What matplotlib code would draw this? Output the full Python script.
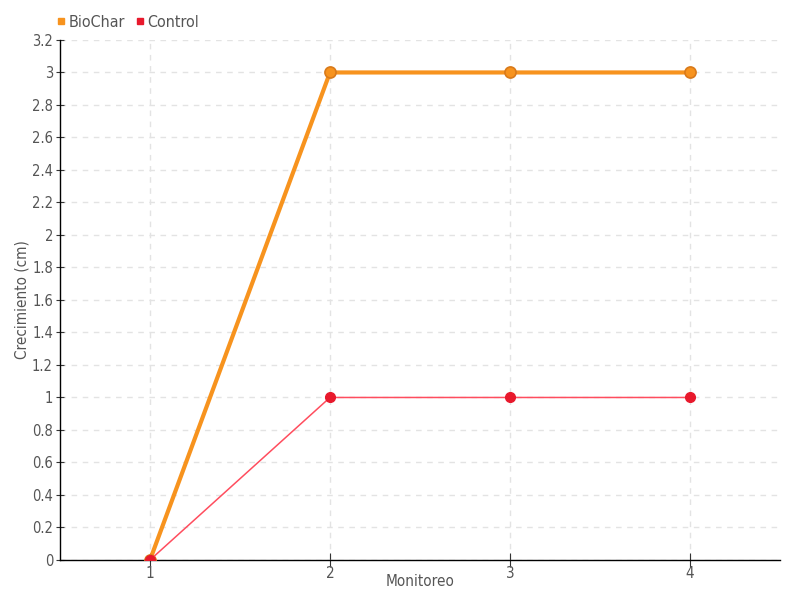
import matplotlib
matplotlib.use("Agg")
import matplotlib.pyplot as plt
from matplotlib.lines import Line2D

plt.rcParams['font.family'] = ['DejaVu Sans']
plt.rcParams['font.stretch'] = 'condensed'

monitoreo = [1, 2, 3, 4]
biochar = [0, 3, 3, 3]
control = [0, 1, 1, 1]
yticks = [0, 0.2, 0.4, 0.6, 0.8, 1, 1.2, 1.4, 1.6, 1.8, 2, 2.2, 2.4, 2.6, 2.8, 3, 3.2]

txt = "#555555"
orange = "#f7931e"
red = "#e8192c"

fig = plt.figure(figsize=(8, 6), dpi=100)
ax = fig.add_axes([0.075, 0.0667, 0.9, 0.8667])

ax.plot(monitoreo, biochar, color=orange, lw=3, marker="o", ms=8,
        mfc=orange, mec="#d97a1a", mew=1.2, zorder=3)
ax.plot(monitoreo, control, color="#ff4d5e", lw=1.1, marker="o", ms=7,
        mfc=red, mec=red, zorder=4)

ax.set_xlim(0.5, 4.5)
ax.set_ylim(0, 3.2)
ax.set_xticks(monitoreo)
ax.set_yticks(yticks)
ax.set_yticklabels([f"{v:g}" for v in yticks])
ax.grid(True, color="#e3e3e3", ls=(0, (4, 4)), lw=1)
ax.set_axisbelow(True)
for s in ("top", "right"):
    ax.spines[s].set_visible(False)
for s in ("left", "bottom"):
    ax.spines[s].set_color("black")
    ax.spines[s].set_linewidth(1)
ax.tick_params(axis="y", direction="inout", length=6, colors=txt, labelsize=10.5,
               pad=2)
ax.tick_params(axis="x", direction="inout", length=10, colors=txt, labelsize=11,
               pad=-1)
ax.tick_params(axis="both", color="#333333")

ax.set_xlabel("Monitoreo", color=txt, fontsize=11)
ax.set_ylabel("Crecimiento (cm)", color=txt, fontsize=11)
ax.xaxis.set_label_coords(0.5, -0.026)
ax.yaxis.set_label_coords(-0.042, 0.5)

handles = [Line2D([], [], ls="", marker="s", ms=5, color=orange),
           Line2D([], [], ls="", marker="s", ms=5, color=red)]
fig.legend(handles, ["BioChar", "Control"], loc="upper left",
           bbox_to_anchor=(0.052, 0.999), ncol=2, frameon=False, fontsize=11.5,
           handlelength=0.6, handletextpad=0.2, columnspacing=0.6,
           labelcolor=txt)

fig.savefig("out.png", dpi=100)
